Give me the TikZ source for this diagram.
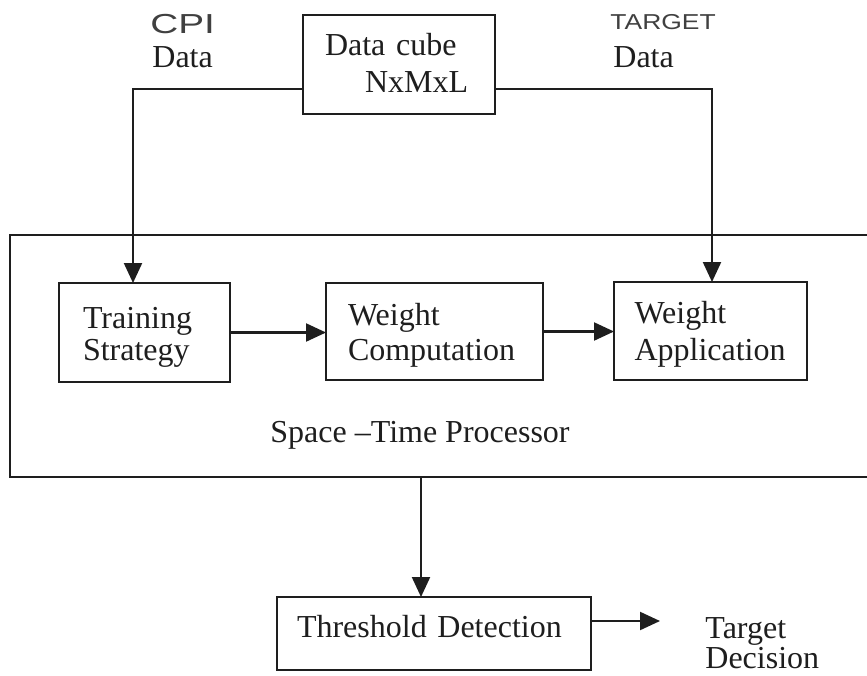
\documentclass[tikz,border=0pt]{standalone}
\usepackage{fontspec}
\setmainfont{Liberation Serif}
\newfontfamily\handfont{Liberation Sans}
\usetikzlibrary{arrows.meta}
\definecolor{ink}{RGB}{30,30,30}
\tikzset{
  boxn/.style={draw=ink, line width=1.1pt, rectangle, outer sep=0pt, align=left,
    text height=11pt, text=ink},
  conn/.style={draw=ink, line width=1.1pt},
  arr/.style={conn, -{Triangle[length=10pt,width=9pt]}},
  lbl/.style={text=ink, inner sep=0pt, font=\fontsize{16pt}{16pt}\selectfont},
  hand/.style={text=ink!85, inner sep=0pt, anchor=base west},
}
\begin{document}
\begin{tikzpicture}[x=0.5pt,y=-0.5pt]
\useasboundingbox (0,0) rectangle (867,675);
\fill[white] (0,0) rectangle (867,675);
\begin{scope}
  \clip (0,0) rectangle (867,675);
  \node[boxn, minimum width=433.5pt, minimum height=121pt] (stp) at (443.5,356) {};
\end{scope}
% boxes
\node[boxn, minimum width=96pt, minimum height=49.5pt, text width=74pt, inner xsep=11pt,
  text depth=20.5pt, font=\fontsize{16pt}{18.5pt}\selectfont] (cube) at (399,64.5)
  {Data cube\\\hspace*{20pt}NxMxL};
\node[boxn, minimum width=85.5pt, minimum height=49.5pt, text width=61.5pt, inner xsep=12pt,
  text depth=15.5pt, font=\fontsize{16pt}{16pt}\selectfont] (ts) at (144.5,332.5)
  {Training\\Strategy};
\node[boxn, minimum width=108.5pt, minimum height=48.5pt, text width=86.5pt, inner xsep=11pt,
  text depth=17.5pt, font=\fontsize{16pt}{17.5pt}\selectfont] (wc) at (434.5,331.5)
  {Weight\\Computation};
\node[boxn, minimum width=96.5pt, minimum height=49pt, text width=76pt, inner xsep=10.25pt,
  text depth=19pt, font=\fontsize{16pt}{18.5pt}\selectfont] (wa) at (710.5,331)
  {Weight\\Application};
\node[boxn, minimum width=157pt, minimum height=36.5pt, text width=137pt, inner xsep=10pt,
  text depth=7.5pt, font=\fontsize{16pt}{16pt}\selectfont] (th) at (434,633.5)
  {Threshold Detection};
% free texts
\node[lbl, anchor=base west] (stplabel) at (270,442) {Space –Time Processor};
\node[lbl, anchor=base west, align=left, text width=70pt,
  font=\fontsize{16pt}{13pt}\selectfont] (decision) at (705,638) {Target\\Decision};
\node[lbl, anchor=base west] (cpidata) at (152,67) {Data};
\node[lbl, anchor=base west] (tgtdata) at (613,67) {Data};
\node[hand, font=\handfont\fontsize{12.5pt}{12.5pt}\selectfont] (cpi) at (150,33)
  {\scalebox{1.55}[1.1]{CPI}};
\node[hand, font=\handfont\fontsize{9.8pt}{9.8pt}\selectfont] (tgt) at (610,29)
  {\scalebox{1.35}[1.1]{TARGET}};
% connectors
\coordinate (cl) at (133,89);
\coordinate (cr) at (712,89);
\coordinate (cd) at (421,477);
\coordinate (td) at (660,621);
\draw[arr] (cube.west |- cl) -- (cl) -- (cl |- ts.north);
\draw[arr] (cube.east |- cr) -- (cr) -- (cr |- wa.north);
\draw[arr] (ts.east) -- (ts.east -| wc.west);
\draw[arr] (wc.east) -- (wc.east -| wa.west);
\draw[arr] (stp.south -| cd) -- (cd |- th.north);
\draw[arr] (th.east |- td) -- (td);
\end{tikzpicture}
\end{document}
